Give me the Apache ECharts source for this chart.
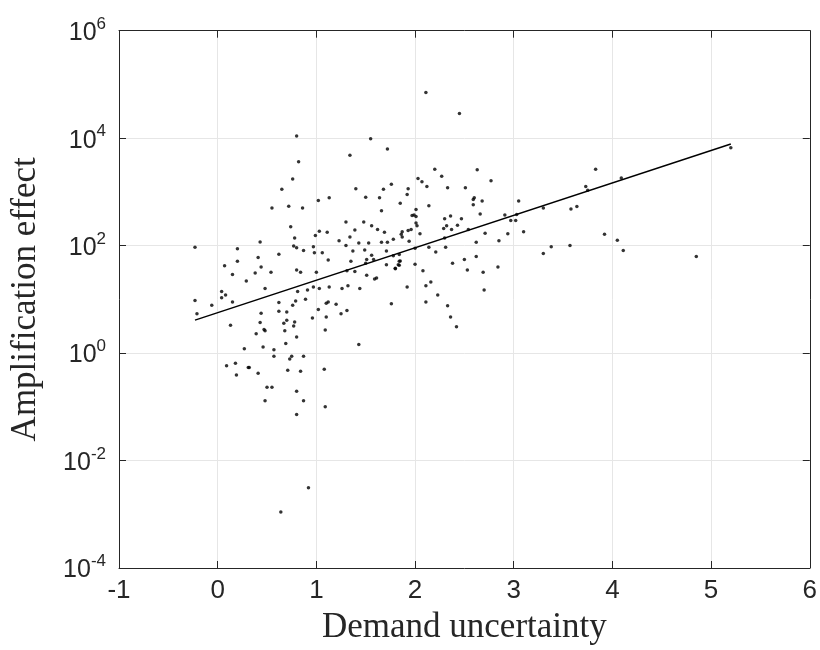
<!DOCTYPE html>
<html>
<head>
<meta charset="utf-8">
<script src="https://cdn.jsdelivr.net/npm/echarts@6/dist/echarts.min.js"></script>
<style>
html,body{margin:0;padding:0;background:#fff;}
#chart{width:820px;height:650px;}
</style>
</head>
<body>
<div id="chart"></div>
<script>
// Scatter data: demand uncertainty (x) vs amplification effect (y, log scale)
const demandUncertainty = [
0.76,0.65,0.55,0.72,0.86,0.74,0.78,-0.23,0.43,0.20,0.77,0.80,0.41,0.62,0.20,0.07,0.44,0.15,0.38,0.54,0.80,0.84,0.29,
0.48,-0.23,0.04,0.08,0.04,-0.06,0.15,-0.21,0.81,0.62,0.79,0.76,0.62,0.70,0.44,0.13,0.43,0.70,0.67,0.78,0.47,0.48,0.39,0.68,0.80,0.69,0.27,0.46,0.57,0.57,0.75,0.73,0.09,0.18,0.31,0.32,0.19,0.41,0.71,0.84,0.50,0.55,0.80,0.48,0.80,
0.80,1.55,1.72,1.34,0.82,1.40,1.68,1.76,1.50,1.64,1.02,1.13,1.85,1.66,1.30,1.48,1.56,1.39,1.62,1.69,0.99,1.03,1.11,1.34,1.23,1.78,1.86,0.97,1.30,1.43,1.53,1.66,1.72,
0.87,0.98,1.06,1.37,1.49,1.71,1.12,1.35,1.51,1.56,1.50,1.58,1.84,1.85,1.71,1.83,1.80,1.00,1.31,1.39,1.51,1.61,1.59,0.91,0.97,1.03,1.13,1.26,1.32,1.44,0.89,1.10,1.12,1.20,1.02,1.76,1.31,1.25,0.96,1.10,0.77,1.09,1.43,
0.87,1.08,0.87,1.09,0.92,0.64,
2.11,2.45,2.20,2.63,2.27,2.03,2.07,2.12,2.33,2.51,2.77,1.93,1.92,2.01,2.14,2.59,2.60,2.59,2.68,2.66,1.97,1.99,2.01,2.36,
2.01,2.02,2.30,2.47,2.32,2.29,2.37,2.43,2.54,1.87,1.93,1.96,1.87,2.05,1.94,2.71,2.30,2.62,2.85,2.14,2.31,2.00,2.21,1.78,1.84,1.80,1.84,2.00,2.38,2.50,2.62,2.08,2.53,2.69,2.84,2.16,2.11,1.92,2.70,2.23,2.11,2.33,2.36,2.42,
5.20,3.83,4.09,3.73,3.75,3.05,3.30,3.58,3.64,2.91,2.97,3.02,3.03,2.94,3.10,3.92,4.05,4.11,3.30,3.38,3.57,4.85
];
const amplificationEffect = [
1740,1120,500,540,500,224,138,93,117,87,98,91,60,69,51,42,40,29,31,32,35,32,22,
16,9.5,14,12,10.7,7.8,8.9,5.4,14,8.7,9.3,7.8,6.0,5.8,5.5,3.3,3.7,4.1,3.6,3.8,2.75,2.6,2.3,2.6,2.0,1.5,1.2,1.3,1.15,0.87,0.87,0.78,0.58,0.65,0.54,0.54,0.39,0.42,0.48,0.46,0.23,0.23,0.195,0.13,0.072,
11000,9770,6310,4790,3630,1150,1120,1380,794,776,692,776,617,447,275,275,234,195,200,178,155,186,178,145,123,132,162,95,100,112,112,115,115,
81,74,74,79,83,79,54,51,55,66,47,55,68,52,44,44,38,32,34,33,28,25,24,15,17,16,17,16,18,16,10,8.5,8.9,8.1,6.5,8.3,6.2,5.4,4.5,4.7,3.2,2.7,1.45,
0.87,0.50,0.13,0.10,0.0031,0.0011,
70800,28800,2630,2570,1950,1780,1550,1260,1200,1200,1620,1150,890,468,550,724,776,575,676,389,363,372,347,355,
263,234,316,316,234,209,200,240,200,182,191,200,145,166,120,170,138,115,123,93,93,89,76,65,51,37,43,45,47,55,63,34,35,32,40,21,18,17,15,12,8.9,7.6,4.7,3.1,
6610,2630,1820,1260,1070,676,501,479,537,372,295,295,380,166,182,162,126,81,71,95,100,63
];
// Least-squares fit line end points
const fitX = [-0.23, 5.20];
const fitY = [4.1, 7760];
// Axis settings
const xTicks = [-1, 0, 1, 2, 3, 4, 5, 6];
const yMin = 1e-4, yMax = 1e6;

const points = demandUncertainty.map((x, i) => [x, amplificationEffect[i]]);
const fitLine = fitX.map((x, i) => [x, fitY[i]]);

const axisColor = '#262626';
const gridColor = '#e6e6e6';
const tickFont = 'Liberation Sans, Arial, Helvetica, sans-serif';
const nameFont = 'Liberation Serif, Times New Roman, serif';

const chart = echarts.init(document.getElementById('chart'), null, {renderer: 'canvas'});
chart.setOption({
  animation: false,
  backgroundColor: '#ffffff',
  grid: {left: 115.5, right: 9.5, top: 30.7, bottom: 76.7, containLabel: false},
  xAxis: [{
    type: 'value', min: xTicks[0], max: xTicks[xTicks.length - 1], interval: 1,
    position: 'bottom',
    name: 'Demand uncertainty', nameLocation: 'middle', nameGap: 42,
    nameTextStyle: {fontFamily: nameFont, fontSize: 35, color: axisColor},
    axisLine: {onZero: false, lineStyle: {color: axisColor, width: 1}},
    axisTick: {inside: true, length: 7, lineStyle: {color: axisColor}},
    axisLabel: {fontFamily: tickFont, fontSize: 26, color: axisColor, margin: 10},
    splitLine: {show: true, lineStyle: {color: gridColor, width: 1}}
  }, {
    type: 'value', min: xTicks[0], max: xTicks[xTicks.length - 1], interval: 1,
    position: 'top',
    axisLine: {onZero: false, lineStyle: {color: axisColor, width: 1}},
    axisTick: {inside: true, length: 7, lineStyle: {color: axisColor}},
    axisLabel: {show: false},
    splitLine: {show: false}
  }],
  yAxis: [{
    type: 'log', logBase: 10, min: yMin, max: yMax, interval: 2,
    position: 'left',
    name: 'Amplification effect', nameLocation: 'middle', nameGap: 76,
    nameTextStyle: {fontFamily: nameFont, fontSize: 35, color: axisColor},
    axisLine: {onZero: false, lineStyle: {color: axisColor, width: 1}},
    axisTick: {inside: true, length: 7, lineStyle: {color: axisColor}},
    minorTick: {show: false},
    axisLabel: {
      margin: 13,
      formatter: function (v) {
        const e = Math.round(Math.log(v) / Math.LN10);
        return '{b|10}{s|' + e + '}';
      },
      rich: {
        b: {fontFamily: tickFont, fontSize: 25, color: axisColor, verticalAlign: 'bottom', lineHeight: 30, padding: [8, 0, 0, 0]},
        s: {fontFamily: tickFont, fontSize: 17, color: axisColor, verticalAlign: 'top', lineHeight: 30, padding: [0, 0, 10, 0]}
      }
    },
    splitLine: {show: true, lineStyle: {color: gridColor, width: 1}}
  }, {
    type: 'log', logBase: 10, min: yMin, max: yMax, interval: 2,
    position: 'right',
    axisLine: {onZero: false, lineStyle: {color: axisColor, width: 1}},
    axisTick: {inside: true, length: 7, lineStyle: {color: axisColor}},
    axisLabel: {show: false},
    splitLine: {show: false}
  }],
  series: [{
    type: 'scatter',
    data: points,
    symbol: 'circle',
    symbolSize: 3.5,
    itemStyle: {color: '#000000'},
    z: 3
  }, {
    type: 'line',
    data: fitLine,
    showSymbol: false,
    symbol: 'none',
    lineStyle: {color: '#000000', width: 1.5},
    z: 4
  }]
});
</script>
</body>
</html>
